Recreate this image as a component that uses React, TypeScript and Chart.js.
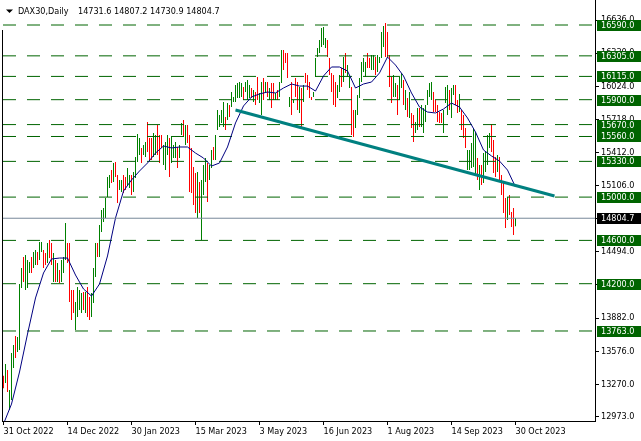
import React, { useEffect, useRef } from "react";
import { Chart, registerables } from "chart.js";

Chart.register(...registerables);

const symbolName = "DAX30,Daily";
const lastOhlc = [14731.6, 14807.2, 14730.9, 14804.7];
const lastPrice = 14804.7;

const xTickBars = [0, 32, 64, 96, 128, 160, 192, 224, 256];
const xTickLabels = [
  "31 Oct 2022", "14 Dec 2022", "30 Jan 2023", "15 Mar 2023", "3 May 2023",
  "16 Jun 2023", "1 Aug 2023", "14 Sep 2023", "30 Oct 2023",
];
const yTickValues = [12973, 13270, 13576, 13882, 14188, 14494, 14800, 15106, 15412, 15718, 16024, 16330, 16636];
const levelPrices = [16590, 16305, 16115, 15900, 15670, 15560, 15330, 15000, 14600, 14200, 13763];

const highs = [
  13350, 13458, 13403, 13218, 13560, 13634, 13717, 13707, 14197, 14345,
  14447, 14465, 14419, 14400, 14447, 14493, 14511, 14493, 14585, 14585,
  14511, 14484, 14576, 14604, 14576, 14484, 14419, 14391, 14326, 14419,
  14447, 14761, 14576, 14576, 14142, 14142, 14031, 14169, 14142, 14114,
  14123, 14123, 14169, 14077, 14114, 14345, 14576, 14576, 14742, 14881,
  14899, 14992, 15186, 15204, 15250, 15315, 15324, 15204, 15158, 15158,
  15204, 15186, 15269, 15204, 15204, 15232, 15371, 15583, 15546, 15454,
  15481, 15509, 15694, 15546, 15546, 15592, 15574, 15666, 15574, 15574,
  15481, 15509, 15574, 15546, 15555, 15481, 15509, 15463, 15481, 15685,
  15712, 15666, 15666, 15574, 15454, 15278, 15223, 15232, 15140, 15158,
  15297, 15361, 15315, 15297, 15435, 15463, 15574, 15805, 15759, 15805,
  15879, 15740, 15869, 15851, 15971, 15925, 16036, 16054, 16063, 16054,
  16017, 16063, 16082, 16036, 16008, 15990, 15971, 16110, 15962, 16063,
  16100, 16063, 16063, 16008, 16054, 16054, 15962, 15990, 16063, 16359,
  16359, 16331, 16331, 15925, 16063, 15897, 16100, 16063, 16017, 16008,
  16036, 16147, 16128, 16063, 15925, 15971, 16285, 16377, 16451, 16562,
  16571, 16470, 16451, 16285, 16147, 16128, 16063, 16036, 16128, 16193,
  16294, 16331, 16220, 16110, 16017, 15805, 15805, 15943, 16100, 16248,
  16285, 16248, 16331, 16285, 16313, 16313, 16294, 16313, 16294, 16525,
  16581, 16608, 16525, 16313, 16110, 16128, 16054, 16036, 16110, 16147,
  16082, 15990, 15916, 15971, 15777, 15759, 15694, 15823, 15823, 15851,
  15823, 15851, 15990, 16054, 16063, 15971, 15897, 15851, 15786, 15777,
  15805, 16017, 16036, 15990, 16008, 16036, 16036, 15897, 15953, 15805,
  15759, 15638, 15435, 15435, 15500, 15638, 15601, 15361, 15297, 15297,
  15407, 15417, 15574, 15592, 15675, 15528, 15371, 15389, 15371, 15204,
  15140, 14992, 15001, 15019, 14863, 14899, 14807.2,
];

const lows = [
  13234, 13283, 13199, 13033, 13125, 13421, 13513, 13569, 13587, 14161,
  14216, 14142, 14161, 14299, 14299, 14345, 14373, 14373, 14419, 14493,
  14345, 14373, 14391, 14437, 14373, 14216, 14216, 14216, 14206, 14216,
  14299, 14419, 14391, 14031, 13865, 13929, 13772, 13892, 13957, 13929,
  13957, 13929, 13892, 13865, 13892, 14022, 14262, 14447, 14447, 14678,
  14770, 14807, 15001, 15084, 15130, 15140, 15186, 14945, 15066, 15047,
  15038, 15066, 15112, 15084, 15019, 15047, 15176, 15324, 15389, 15315,
  15389, 15371, 15417, 15343, 15343, 15371, 15389, 15389, 15315, 15454,
  15297, 15250, 15389, 15186, 15315, 15361, 15361, 15269, 15361, 15574,
  15555, 15481, 15500, 15047, 15038, 14927, 14853, 14807, 14853, 14604,
  15019, 15140, 14955, 15158, 15269, 15343, 15343, 15620, 15648, 15685,
  15648, 15620, 15712, 15740, 15832, 15879, 15879, 15916, 15916, 15925,
  15897, 15971, 15897, 15916, 15916, 15879, 15851, 15897, 15869, 15759,
  15897, 15962, 15925, 15897, 15823, 15897, 15897, 15897, 15925, 16054,
  16174, 16239, 16100, 15832, 15759, 15869, 15925, 15805, 15777, 15648,
  15879, 16054, 15990, 15916, 15897, 15925, 16110, 16294, 16331, 16387,
  16405, 16377, 16294, 16128, 15971, 15851, 15832, 15916, 15971, 16017,
  16063, 16147, 16110, 16008, 15574, 15555, 15638, 15759, 15916, 16063,
  16156, 16110, 16193, 16193, 16174, 16174, 16128, 16156, 16239, 16285,
  16387, 16294, 16285, 16017, 15869, 15925, 15925, 15759, 15897, 16008,
  15851, 15805, 15740, 15731, 15638, 15509, 15592, 15620, 15648, 15648,
  15592, 15694, 15851, 15925, 15897, 15786, 15786, 15694, 15685, 15685,
  15592, 15869, 15759, 15805, 15731, 15943, 15851, 15777, 15786, 15620,
  15546, 15454, 15250, 15250, 15269, 15278, 15204, 15158, 15066, 15112,
  15130, 15232, 15297, 15454, 15417, 15223, 15186, 15232, 15140, 15019,
  14853, 14714, 14788, 14835, 14724, 14650, 14730.9,
];

// 1 = up bar (green), 0 = down bar (red)
const upBars = [
  0, 1, 0, 1, 1, 1, 0, 1, 1, 1,
  0, 1, 1, 1, 0, 1, 1, 0, 1, 1,
  0, 0, 1, 0, 0, 1, 0, 1, 0, 1,
  1, 1, 0, 0, 0, 0, 1, 1, 1, 1,
  0, 1, 0, 0, 1, 1, 1, 0, 1, 1,
  1, 1, 1, 1, 0, 1, 0, 0, 1, 1,
  0, 0, 1, 1, 0, 1, 1, 1, 1, 0,
  1, 1, 0, 0, 0, 1, 1, 0, 0, 0,
  1, 1, 1, 0, 1, 1, 1, 0, 1, 1,
  0, 1, 0, 0, 0, 0, 0, 1, 0, 1,
  1, 1, 0, 1, 1, 0, 1, 1, 1, 1,
  1, 0, 1, 0, 1, 1, 1, 1, 1, 1,
  0, 1, 1, 1, 0, 1, 0, 0, 1, 1,
  0, 1, 0, 1, 0, 0, 1, 0, 1, 1,
  0, 0, 0, 1, 0, 1, 0, 0, 1, 0,
  1, 0, 0, 0, 0, 1, 1, 1, 1, 1,
  1, 1, 0, 0, 0, 0, 0, 1, 1, 0,
  1, 0, 1, 1, 0, 0, 1, 1, 1, 1,
  1, 1, 0, 0, 1, 1, 0, 1, 1, 1,
  1, 0, 0, 0, 0, 1, 1, 0, 1, 1,
  0, 1, 0, 1, 0, 0, 1, 1, 0, 1,
  1, 1, 1, 1, 1, 0, 0, 0, 0, 0,
  1, 1, 1, 0, 1, 1, 0, 0, 1, 0,
  0, 0, 1, 1, 1, 1, 1, 0, 1, 0,
  1, 1, 1, 1, 0, 0, 0, 1, 0, 0,
  0, 0, 1, 0, 0, 0, 1,
];

// moving average, one reading every 4 bars
const maEvery = 4;
const maValues = [
  12904, 13088, 13384, 13735, 14068, 14299, 14428, 14437, 14437, 14280,
  14151, 14086, 14197, 14456, 14807, 15056, 15158, 15241, 15315, 15407,
  15472, 15454, 15463, 15463, 15407, 15361, 15287, 15315, 15463, 15685,
  15842, 15925, 15953, 15971, 15962, 16008, 16045, 16026, 16026, 15980,
  16119, 16202, 16202, 16165, 16008, 16045, 16063, 16147, 16294, 16220,
  16119, 15962, 15832, 15786, 15777, 15814, 15869, 15832, 15731, 15601,
  15435, 15380, 15333, 15250, 15093,
];

const trendBars = [116, 275.5];
const trendPrices = [15805, 15010];

const X_MIN = -0.25;
const X_MAX = 295.75;
const Y_MIN = 12931.4;
const Y_MAX = 16821;

const FONT = "'DejaVu Sans Condensed', 'Liberation Sans', sans-serif";
const LEVEL_GREEN = "#006400";
const UP_GREEN = "#008000";
const DOWN_RED = "#ff0000";

const overlayPlugin = {
  id: "mtOverlay",
  afterDraw(chart: any) {
    const ctx = chart.ctx;
    const yScale = chart.scales.y;
    const area = chart.chartArea;
    ctx.save();
    // left frame
    ctx.fillStyle = "#000";
    ctx.fillRect(2, 30, 1, area.bottom - 30 + 1);
    // title
    ctx.beginPath();
    ctx.moveTo(6, 9.5);
    ctx.lineTo(13, 9.5);
    ctx.lineTo(9.5, 13);
    ctx.closePath();
    ctx.fill();
    ctx.font = `9px ${FONT}`;
    ctx.textBaseline = "middle";
    ctx.textAlign = "left";
    ctx.fillText(symbolName, 18, 11.5);
    ctx.fillText(lastOhlc.map((v) => v.toFixed(1)).join(" "), 78, 11.5);
    // level price boxes
    for (const p of levelPrices) {
      const py = Math.round(yScale.getPixelForValue(p));
      ctx.fillStyle = LEVEL_GREEN;
      ctx.fillRect(597, py - 5, 44, 11);
      ctx.fillStyle = "#fff";
      ctx.fillText(p.toFixed(1), 601, py + 0.5);
    }
    const lp = Math.round(yScale.getPixelForValue(lastPrice));
    ctx.fillStyle = "#000";
    ctx.fillRect(597, lp - 5, 44, 11);
    ctx.fillStyle = "#fff";
    ctx.fillText(lastPrice.toFixed(1), 601, lp + 0.5);
    ctx.restore();
  },
};

function barSeries(up: number) {
  const out: { x: number; y: number[] }[] = [];
  highs.forEach((h, i) => {
    if (upBars[i] === up) out.push({ x: i, y: [lows[i], h] });
  });
  return out;
}

export default function App() {
  const canvasRef = useRef<HTMLCanvasElement | null>(null);

  useEffect(() => {
    document.body.style.margin = "0";
    const canvas = canvasRef.current;
    if (!canvas) return;

    const levelDatasets = levelPrices.map((p) => ({
      type: "line" as const,
      data: [{ x: X_MIN, y: p }, { x: X_MAX, y: p }],
      borderColor: LEVEL_GREEN,
      borderWidth: 1,
      borderDash: [13, 11],
      pointRadius: 0,
      order: 4,
    }));

    const barCommon = {
      type: "bar" as const,
      borderWidth: 0,
      barThickness: 1,
      maxBarThickness: 1,
      grouped: false,
      inflateAmount: 0,
      order: 10,
    };

    const chart = new Chart(canvas, {
      type: "bar",
      data: {
        datasets: [
          {
            type: "line",
            data: trendBars.map((b, k) => ({ x: b, y: trendPrices[k] })),
            borderColor: "#008080",
            borderWidth: 3,
            pointRadius: 0,
            order: 1,
          },
          {
            type: "line",
            data: [{ x: X_MIN, y: lastPrice }, { x: X_MAX, y: lastPrice }],
            borderColor: "#778899",
            borderWidth: 1,
            pointRadius: 0,
            order: 2,
          },
          {
            type: "line",
            data: maValues.map((v, k) => ({ x: k * maEvery, y: v })),
            borderColor: "#000080",
            borderWidth: 1,
            pointRadius: 0,
            order: 3,
          },
          ...levelDatasets,
          { ...barCommon, data: barSeries(1), backgroundColor: UP_GREEN },
          { ...barCommon, data: barSeries(0), backgroundColor: DOWN_RED },
        ] as any,
      },
      options: {
        animation: false,
        responsive: false,
        devicePixelRatio: 1,
        events: [],
        layout: { padding: { left: 3, top: 0, right: 0, bottom: 0 }, autoPadding: false },
        plugins: {
          legend: { display: false },
          tooltip: { enabled: false },
        },
        scales: {
          x: {
            type: "linear",
            min: X_MIN,
            max: X_MAX,
            offset: false,
            afterBuildTicks: (s: any) => {
              s.ticks = xTickBars.map((v) => ({ value: v }));
            },
            afterFit: (s: any) => {
              s.height = 20;
              s.paddingLeft = 0;
              s.paddingRight = 0;
            },
            ticks: {
              autoSkip: false,
              maxRotation: 0,
              minRotation: 0,
              align: "start",
              padding: 1,
              color: "#000",
              font: { family: FONT, size: 9 },
              callback: (v: any) => {
                const k = xTickBars.indexOf(Number(v));
                return k >= 0 ? xTickLabels[k] : "";
              },
            },
            grid: { display: true, drawOnChartArea: false, drawTicks: true, tickLength: 4, color: "#000", offset: false },
            border: { display: true, color: "#000", width: 1 },
          },
          y: {
            type: "linear",
            position: "right",
            min: Y_MIN,
            max: Y_MAX,
            afterBuildTicks: (s: any) => {
              s.ticks = yTickValues.map((v) => ({ value: v }));
            },
            afterFit: (s: any) => {
              s.width = 46;
              s.paddingTop = 0;
              s.paddingBottom = 0;
            },
            ticks: {
              autoSkip: false,
              padding: 2,
              color: "#000",
              font: { family: FONT, size: 9 },
              callback: (v: any) => Number(v).toFixed(1),
            },
            grid: { display: true, drawOnChartArea: false, drawTicks: true, tickLength: 4, color: "#000" },
            border: { display: true, color: "#000", width: 1 },
          },
        },
      } as any,
      plugins: [overlayPlugin],
    });

    return () => chart.destroy();
  }, []);

  return (
    <div style={{ width: 641, height: 441, background: "#fff" }}>
      <canvas ref={canvasRef} width={641} height={441} style={{ display: "block" }} />
    </div>
  );
}
